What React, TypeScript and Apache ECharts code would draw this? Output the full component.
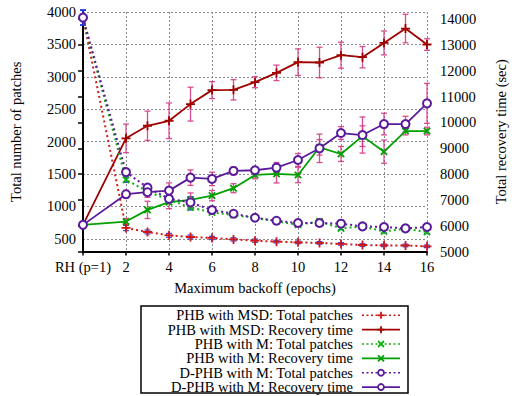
import React, { useEffect, useRef } from 'react';
import * as echarts from 'echarts';

const FONT = 'Liberation Serif';

// x positions: 0 = "RH (p=1)", then maximum backoff 2..16
const xValues = [0, 2, 3, 4, 5, 6, 7, 8, 9, 10, 11, 12, 13, 14, 15, 16];
const xTicks = [0, 2, 4, 6, 8, 10, 12, 14, 16];
const xFirstLabel = 'RH (p=1)';
const leftTicks = [500, 1000, 1500, 2000, 2500, 3000, 3500, 4000];
const rightTicks = [5000, 6000, 7000, 8000, 9000, 10000, 11000, 12000, 13000, 14000];

// Total patches (left axis)
const msdPatches = [3914, 668, 606, 554, 529, 514, 492, 472, 457, 446, 437, 422, 405, 400, 398, 385];
const msdPatchesErr = [115, 40, 30, 30, 30, 25, 25, 25, 20, 20, 20, 20, 20, 20, 20, 20];
const mPatches = [3914, 1411, 1231, 1103, 985, 908, 868, 822, 769, 719, 769, 662, 692, 615, 657, 606];
const mPatchesErr = [115, 40, 40, 40, 40, 30, 30, 25, 20, 20, 30, 20, 20, 25, 20, 25];
const dPatches = [3914, 1529, 1292, 1118, 1062, 945, 888, 826, 780, 745, 745, 734, 692, 683, 662, 683];
const dPatchesErr = [115, 30, 30, 40, 90, 30, 40, 20, 20, 20, 20, 20, 30, 20, 20, 30];

// Recovery time in seconds (right axis)
const msdRecovery = [6032, 9385, 9872, 10066, 10711, 11253, 11265, 11560, 11922, 12336, 12324, 12606, 12529, 13082, 13639, 13020];
const msdRecoveryErr = [60, 553, 568, 690, 657, 329, 393, 213, 300, 515, 592, 503, 413, 464, 553, 225];
const mRecovery = [6032, 6160, 6612, 6910, 6999, 7166, 7452, 7966, 8005, 7966, 9037, 8778, 9470, 8867, 9667, 9667];
const mRecoveryErr = [60, 120, 335, 250, 270, 200, 175, 150, 350, 300, 300, 290, 400, 450, 150, 150];
const dRecovery = [6032, 7220, 7297, 7359, 7862, 7811, 8121, 8148, 8248, 8546, 8998, 9590, 9513, 9938, 9938, 10739];
const dRecoveryErr = [60, 150, 200, 300, 300, 260, 150, 120, 200, 250, 550, 250, 700, 420, 300, 775];

const seriesNames = [
  'PHB with MSD: Total patches',
  'PHB with MSD: Recovery time',
  'PHB with M: Total patches',
  'PHB with M: Recovery time',
  'D-PHB with M: Total patches',
  'D-PHB with M: Recovery time',
];

const RED_DOT = '#d01818';
const RED = '#a00000';
const GREEN_DOT = '#10b010';
const GREEN = '#00a000';
const PURPLE = '#5a1a9c';
const PINK = '#d4307f';
const BLUE = '#2030e0';

const PLUS = 'path://M4,0H6V4H10V6H6V10H4V6H0V4H4Z';

const pairs = (ys: number[]) => xValues.map((x, i) => [x, ys[i]]);
const errs = (ys: number[], e: number[]) => xValues.map((x, i) => [x, ys[i] - e[i], ys[i] + e[i]]);

function errorSeries(data: number[][], yAxisIndex: number, color: string) {
  return {
    type: 'custom',
    xAxisIndex: 0,
    yAxisIndex,
    silent: true,
    z: 1,
    encode: { x: 0, y: [1, 2] },
    data,
    renderItem: (params: any, api: any) => {
      const x = api.value(0);
      const top = api.coord([x, api.value(2)]);
      const bot = api.coord([x, api.value(1)]);
      const w = 3;
      const style = { stroke: color, lineWidth: 1.3, opacity: 0.85 };
      return {
        type: 'group',
        children: [
          { type: 'line', shape: { x1: top[0], y1: top[1], x2: bot[0], y2: bot[1] }, style },
          { type: 'line', shape: { x1: top[0] - w, y1: top[1], x2: top[0] + w, y2: top[1] }, style },
          { type: 'line', shape: { x1: bot[0] - w, y1: bot[1], x2: bot[0] + w, y2: bot[1] }, style },
        ],
      };
    },
  };
}

function lineSeries(name: string, data: number[][], yAxisIndex: number, color: string, dotted: boolean, symbol: string, size: number, rotate = 0) {
  return {
    name,
    type: 'line',
    xAxisIndex: 0,
    yAxisIndex,
    data,
    z: 3,
    symbol,
    symbolSize: size,
    symbolRotate: rotate,
    showAllSymbol: true,
    lineStyle: { color, width: dotted ? 2 : 1.8, type: dotted ? [2, 3] : 'solid' },
    itemStyle: { color, borderColor: color, borderWidth: symbol === 'emptyCircle' ? 2 : 0 },
  };
}

function legendGraphic() {
  const els: any[] = [
    { type: 'rect', shape: { x: 141, y: 306, width: 267, height: 87 }, style: { fill: '#fff', stroke: '#000', lineWidth: 1.5 }, z: 10 },
  ];
  const rows = [
    { c: RED_DOT, dot: true, m: 'plus' },
    { c: RED, dot: false, m: 'plus' },
    { c: GREEN_DOT, dot: true, m: 'x' },
    { c: GREEN, dot: false, m: 'x' },
    { c: PURPLE, dot: true, m: 'o' },
    { c: PURPLE, dot: false, m: 'o' },
  ];
  rows.forEach((r, i) => {
    const y = 315.3 + i * 14.35;
    els.push({
      type: 'text', z: 11, x: 353, y,
      style: { text: seriesNames[i], fill: '#000', fontFamily: FONT, fontSize: 14.5, lineHeight: 13, textAlign: 'right', textVerticalAlign: 'middle' },
    });
    els.push({
      type: 'line', z: 11, shape: { x1: 362, y1: y, x2: 400, y2: y },
      style: { stroke: r.c, lineWidth: r.dot ? 1.6 : 1.8, lineDash: r.dot ? [2, 2.5] : null },
    });
    const cx = 381;
    if (r.m === 'plus') {
      els.push({ type: 'line', z: 12, shape: { x1: cx - 3.5, y1: y, x2: cx + 3.5, y2: y }, style: { stroke: r.c, lineWidth: 1.8 } });
      els.push({ type: 'line', z: 12, shape: { x1: cx, y1: y - 3.5, x2: cx, y2: y + 3.5 }, style: { stroke: r.c, lineWidth: 1.8 } });
    } else if (r.m === 'x') {
      els.push({ type: 'line', z: 12, shape: { x1: cx - 3, y1: y - 3, x2: cx + 3, y2: y + 3 }, style: { stroke: r.c, lineWidth: 1.8 } });
      els.push({ type: 'line', z: 12, shape: { x1: cx - 3, y1: y + 3, x2: cx + 3, y2: y - 3 }, style: { stroke: r.c, lineWidth: 1.8 } });
    } else {
      els.push({ type: 'circle', z: 12, shape: { cx, cy: y, r: 3 }, style: { stroke: r.c, lineWidth: 1.8, fill: '#fff' } });
    }
  });
  return els;
}

export default function App() {
  const ref = useRef<HTMLDivElement>(null);
  useEffect(() => {
    if (!ref.current) return;
    const chart = echarts.init(ref.current, null, { renderer: 'svg' });
    const labelStyle = { color: '#000', fontFamily: FONT, fontSize: 14.5 };
    chart.setOption({
      animation: false,
      backgroundColor: '#fff',
      textStyle: { fontFamily: FONT },
      grid: { left: 82, right: 86, top: 12, bottom: 144.5, containLabel: false },
      xAxis: {
        type: 'value',
        min: 0,
        max: 16,
        interval: 2,
        name: 'Maximum backoff (epochs)',
        nameLocation: 'middle',
        nameGap: 29,
        nameTextStyle: labelStyle,
        axisLine: { show: true, onZero: false, lineStyle: { color: '#000', width: 2 } },
        axisTick: { show: true, inside: false, length: 4, lineStyle: { color: '#000', width: 1.5 }, customValues: xTicks },
        axisLabel: { ...labelStyle, margin: 8, hideOverlap: false, customValues: xTicks, formatter: (v: number) => (v === 0 ? xFirstLabel : String(v)) },
        splitLine: { show: true, lineStyle: { color: '#8a8a8a', width: 1, type: [2, 2] } },
      },
      yAxis: [
        {
          type: 'value',
          min: 305,
          max: 4000,
          position: 'left',
          name: 'Total number of patches',
          nameLocation: 'middle',
          nameRotate: 90,
          nameGap: 60,
          nameTextStyle: labelStyle,
          axisLine: { show: true, onZero: false, lineStyle: { color: '#000', width: 2 } },
          axisTick: { show: false, customValues: leftTicks },
          axisLabel: { show: false, customValues: leftTicks },
          splitLine: { show: true, lineStyle: { color: '#8a8a8a', width: 1, type: [2, 2] } },
        },
        {
          type: 'value',
          min: 5000,
          max: 14280,
          position: 'right',
          name: 'Total recovery time (sec)',
          nameLocation: 'middle',
          nameRotate: 90,
          nameGap: 66,
          nameTextStyle: labelStyle,
          axisLine: { show: false },
          axisTick: { show: true, inside: true, length: 5, lineStyle: { color: '#000', width: 1.5 }, customValues: rightTicks },
          axisLabel: { ...labelStyle, margin: 13, verticalAlign: 'middle', customValues: rightTicks, formatter: (v: number) => String(v) },
          splitLine: { show: false },
        },
      ],
      series: [
        errorSeries(errs(msdPatches, msdPatchesErr), 0, BLUE),
        errorSeries(errs(mPatches, mPatchesErr), 0, BLUE),
        errorSeries(errs(dPatches, dPatchesErr), 0, BLUE),
        errorSeries(errs(msdRecovery, msdRecoveryErr), 1, PINK),
        errorSeries(errs(mRecovery, mRecoveryErr), 1, PINK),
        errorSeries(errs(dRecovery, dRecoveryErr), 1, PINK),
        lineSeries(seriesNames[0], pairs(msdPatches), 0, RED_DOT, true, PLUS, 9),
        lineSeries(seriesNames[1], pairs(msdRecovery), 1, RED, false, PLUS, 9),
        lineSeries(seriesNames[2], pairs(mPatches), 0, GREEN_DOT, true, PLUS, 9, 45),
        lineSeries(seriesNames[3], pairs(mRecovery), 1, GREEN, false, PLUS, 9, 45),
        lineSeries(seriesNames[4], pairs(dPatches), 0, PURPLE, true, 'emptyCircle', 8),
        lineSeries(seriesNames[5], pairs(dRecovery), 1, PURPLE, false, 'emptyCircle', 8),
      ],
      graphic: legendGraphic(),
    });
    // Left-axis tick labels placed through the axis' own scale
    const axisX = chart.convertToPixel({ xAxisIndex: 0 }, 0) as number;
    const leftLabels = leftTicks.map((v) => ({
      type: 'text',
      z: 5,
      x: axisX - 7,
      y: chart.convertToPixel({ yAxisIndex: 0 }, v) as number,
      style: { text: String(v), fill: '#000', fontFamily: FONT, fontSize: 14.5, textAlign: 'right', textVerticalAlign: 'middle' },
    }));
    chart.setOption({ graphic: [...legendGraphic(), ...leftLabels] });
    return () => chart.dispose();
  }, []);
  return <div ref={ref} style={{ position: 'fixed', left: 0, top: 0, width: 516, height: 396, background: '#fff' }} />;
}
